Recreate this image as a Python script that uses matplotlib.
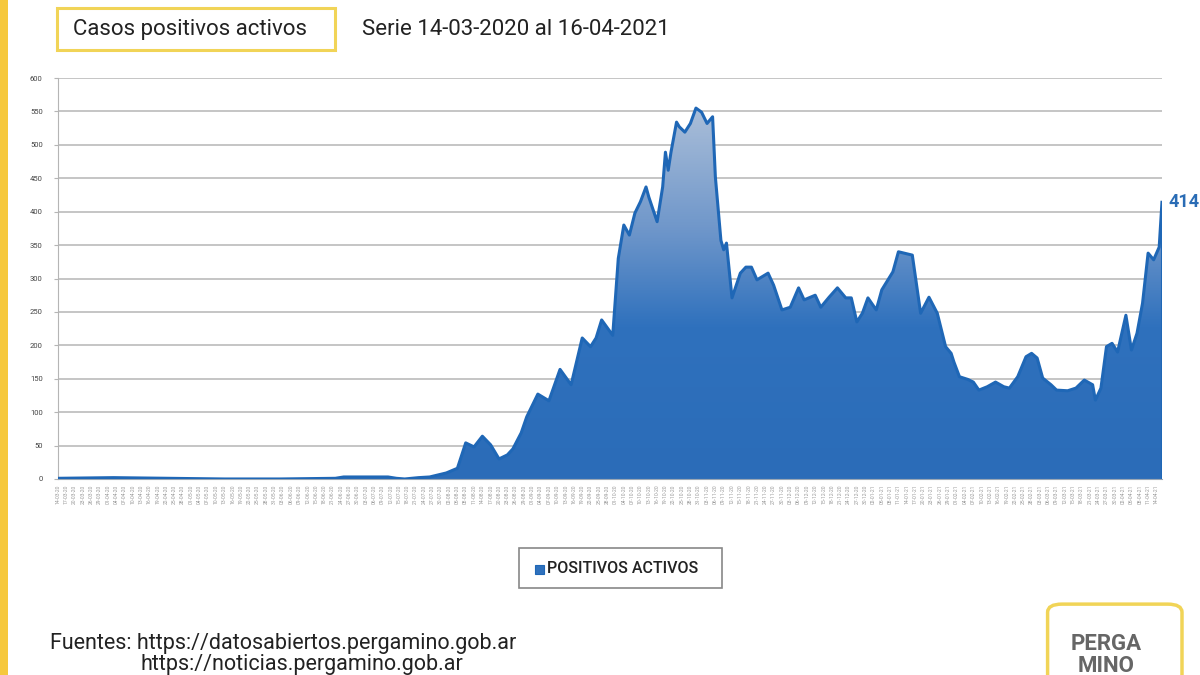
import numpy as np
import pandas as pd
import matplotlib
matplotlib.use("Agg")
import matplotlib.pyplot as plt
from matplotlib.colors import LinearSegmentedColormap
from matplotlib.patches import Rectangle, FancyBboxPatch

# dias desde el 14-03-2020 y casos positivos activos
inicio = pd.Timestamp("2020-03-14")
dias = [0, 20, 40, 60, 80, 100, 103, 119, 122, 125, 130, 134, 140, 144, 147, 150,
        153, 156, 159, 162, 164, 167, 169, 173, 177, 181, 185, 189, 192, 194, 196,
        200, 202, 204, 206, 208, 210, 212, 213, 216, 218, 219, 220, 221, 223, 224,
        226, 228, 230, 232, 234, 236, 237, 239, 240, 241, 243, 246, 248, 250, 252,
        256, 258, 261, 264, 267, 269, 273, 275, 278, 281, 284, 286, 288, 290, 292,
        295, 297, 301, 303, 305, 308, 311, 314, 317, 320, 322, 323, 325, 328, 330,
        332, 335, 338, 341, 343, 346, 349, 351, 353, 355, 358, 360, 364, 367, 370,
        373, 374, 376, 378, 380, 382, 385, 387, 389, 391, 393, 395, 397, 398]
activos = [1, 2, 1, 0, 0, 1, 3, 3, 1, 0, 2, 3, 9, 16, 54, 48,
           64, 51, 30, 36, 45, 69, 93, 127, 117, 164, 141, 211, 198, 211, 238,
           215, 330, 380, 365, 398, 415, 437, 422, 385, 437, 489, 462, 489, 534, 527,
           519, 532, 555, 549, 532, 542, 452, 357, 343, 353, 271, 308, 317, 317, 298,
           308, 290, 253, 257, 286, 268, 275, 257, 272, 286, 271, 271, 235, 248, 271,
           253, 283, 310, 340, 338, 335, 248, 272, 248, 198, 188, 175, 153, 149, 145,
           133, 138, 145, 138, 136, 153, 183, 188, 181, 151, 141, 133, 132, 136, 148,
           141, 118, 136, 198, 203, 190, 245, 193, 218, 263, 338, 328, 347, 414]
yticks = list(range(0, 601, 50))
xtick_dias = list(range(0, 399, 3))
xtick_labels = [(inicio + pd.Timedelta(days=d)).strftime("%d-%m-%y") for d in xtick_dias]

plt.rcParams['font.family'] = ['Roboto', 'DejaVu Sans']

fig = plt.figure(figsize=(12, 6.75), dpi=100)
fig.patch.set_facecolor('white')
ax = fig.add_axes([0.0483, 0.2904, 0.92, 0.594])

# relleno con degradado
cmap = LinearSegmentedColormap.from_list('azul', [(0, '#2b6cb8'), (0.38, '#2f71bd'),
                                                  (0.62, '#6e96ca'), (1.0, '#b9c8dc')])
poly = ax.fill_between(dias, activos, 0, facecolor='none', edgecolor='none')
grad = np.linspace(0, 1, 256).reshape(-1, 1)
img = ax.imshow(grad, cmap=cmap, origin='lower', aspect='auto',
                extent=[0, 398, 0, 600], zorder=2)
img.set_clip_path(poly.get_paths()[0], transform=ax.transData)
ax.plot(dias, activos, color='#1f67b6', lw=2.2, zorder=3, solid_joinstyle='round')
ax.plot([398, 398], [0, 414], color='#1f67b6', lw=1.5, zorder=3)

ax.set_xlim(0, 398)
ax.set_ylim(0, 600)
ax.set_yticks(yticks)
ax.set_yticklabels([str(v) for v in yticks], fontsize=5.5, color='#444444')
ax.set_xticks(xtick_dias)
ax.set_xticklabels(xtick_labels, rotation=90, fontsize=3.6, color='#999999')
ax.grid(axis='y', color='#b5b5b5', lw=1.1, zorder=1)
ax.tick_params(axis='y', length=3, color='#b5b5b5', pad=8)
ax.tick_params(axis='x', length=0, pad=4)
for s in ['top', 'right']:
    ax.spines[s].set_visible(False)
ax.spines['left'].set_color('#b5b5b5')
ax.spines['bottom'].set_color('#9aa7b5')

ax.text(400.5, 414, '414', fontsize=13, color='#2a6cb5', fontweight='bold',
        va='center', ha='left', clip_on=False)

# franja amarilla izquierda
fig.patches.append(Rectangle((0, 0), 0.0065, 1, transform=fig.transFigure,
                             facecolor='#f6c83c', edgecolor='none'))

# titulo
fig.patches.append(Rectangle((0.0475, 0.926), 0.232, 0.062, transform=fig.transFigure,
                             facecolor='white', edgecolor='#f1d457', lw=2.2))
fig.text(0.0605, 0.957, 'Casos positivos activos', fontsize=16, color='#222222',
         va='center', ha='left')
fig.text(0.302, 0.957, 'Serie 14-03-2020 al 16-04-2021', fontsize=16, color='#222222',
         va='center', ha='left')

# leyenda
fig.patches.append(Rectangle((0.4325, 0.129), 0.169, 0.059, transform=fig.transFigure,
                             facecolor='white', edgecolor='#888888', lw=1.2))
fig.patches.append(Rectangle((0.4455, 0.150), 0.0075, 0.0135, transform=fig.transFigure,
                             facecolor='#2f71bd', edgecolor='#1f67b6', lw=0.8))
fig.text(0.4555, 0.158, 'POSITIVOS ACTIVOS', fontsize=11.5, color='#222222',
         va='center', ha='left', fontweight='medium')

# fuentes
fig.text(0.042, 0.047, 'Fuentes: https://datosabiertos.pergamino.gob.ar', fontsize=15.5,
         color='#222222', va='center', ha='left')
fig.text(0.117, 0.016, 'https://noticias.pergamino.gob.ar', fontsize=15.5,
         color='#222222', va='center', ha='left')

# logo
fig.patches.append(FancyBboxPatch((0.873, -0.05), 0.112, 0.155, transform=fig.transFigure,
                                  boxstyle='round,pad=0,rounding_size=0.012',
                                  facecolor='white', edgecolor='#f1d457', lw=2.5))
fig.text(0.922, 0.046, 'PERGA', fontsize=16, color='#666666', fontweight='bold',
         va='center', ha='center')
fig.text(0.922, 0.014, 'MINO', fontsize=16, color='#666666', fontweight='bold',
         va='center', ha='center')

fig.savefig('out.png', dpi=100)
